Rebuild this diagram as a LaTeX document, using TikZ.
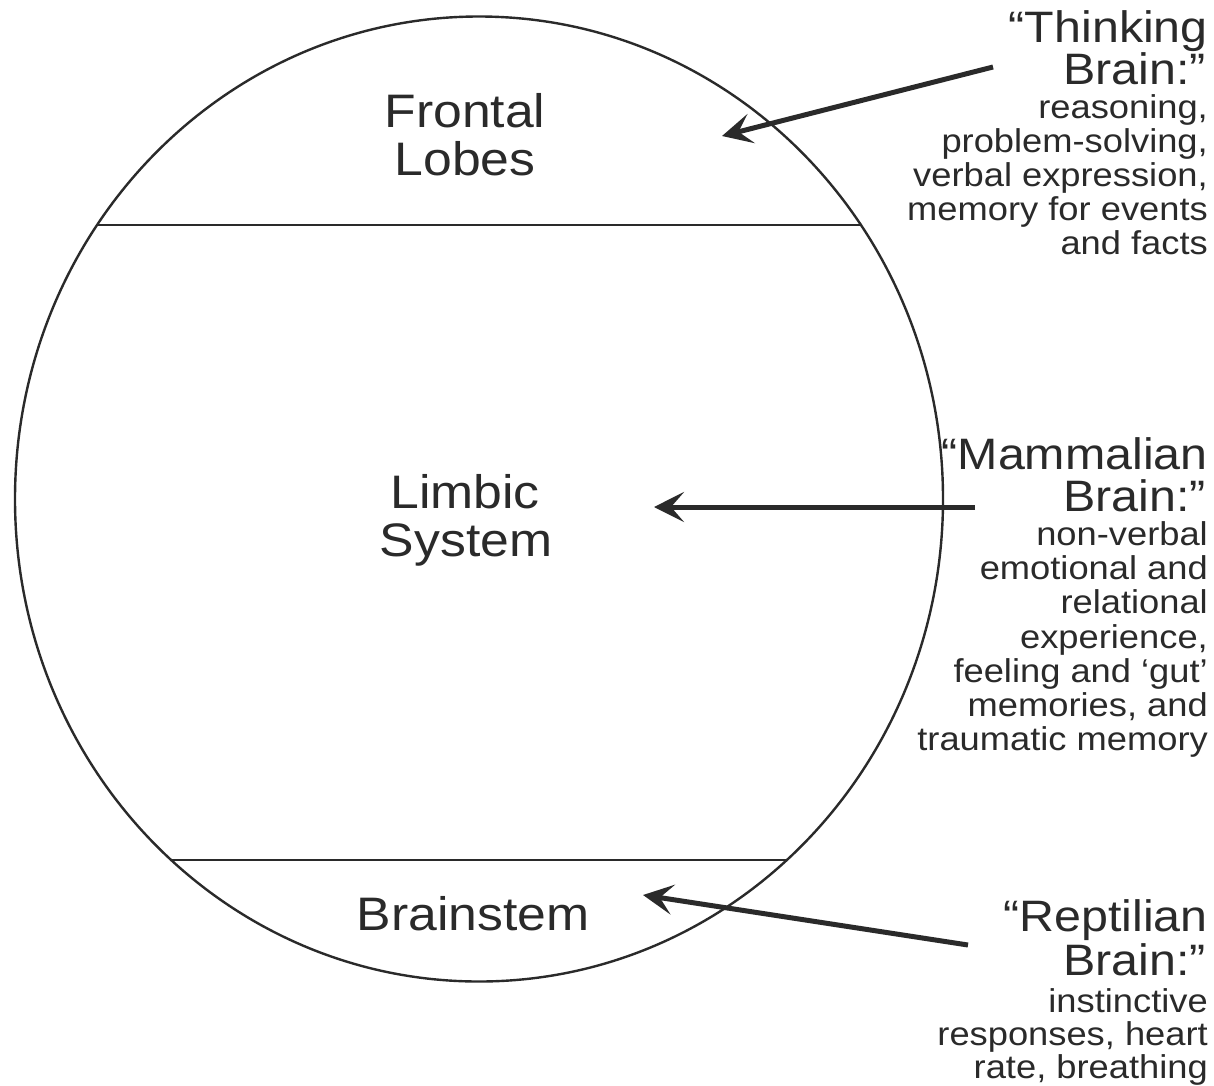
\documentclass[tikz,border=0pt]{standalone}
\usepackage{fontspec}
\newfontfamily\lab[FakeStretch=1.1]{Liberation Sans}
\usetikzlibrary{arrows.meta,intersections}
\definecolor{ink}{HTML}{2A2A2A}
\begin{document}
\begin{tikzpicture}[x=1pt,y=-1pt,
  region/.style={font=\lab\fontsize{47}{48}\selectfont, text=ink, inner sep=0pt, anchor=base},
  head/.style={font=\lab\fontsize{44}{44}\selectfont, text=ink, inner sep=0pt, anchor=base east},
  desc/.style={font=\lab\fontsize{33}{34}\selectfont, text=ink, inner sep=0pt, anchor=base east},
  outline/.style={draw=ink, line width=2.4pt},
  divider/.style={draw=ink, line width=2pt},
  pointer/.style={draw=ink, line width=5pt, -{Stealth[length=30pt,width=30pt,inset=13pt]}}]
\useasboundingbox[fill=white] (0,0) rectangle (1214,1085);
% brain outline
\draw[outline, name path=brain] (479,499) ellipse [x radius=464, y radius=482.5];
\path[name path=topcut] (0,225) -- (1000,225);
\path[name path=botcut] (0,860) -- (1000,860);
\path[name intersections={of=brain and topcut, name=ta}];
\path[name intersections={of=brain and botcut, name=ba}];
\draw[divider] (ta-1) -- (ta-2);
\draw[divider] (ba-1) -- (ba-2);
% region labels
\node[region] (fr1) at (465,127) {Frontal};
\node[region] (fr2) at (465,175) {Lobes};
\node[region] (li1) at (465,508) {Limbic};
\node[region] (li2) at (466,556) {System};
\node[region] (bs) at (473,930) {Brainstem};
% thinking brain
\node[head] (th1) at (1208,42) {“Thinking};
\node[head] (th2) at (1206,84) {Brain:”};
\node[desc] (td1) at (1208,118) {reasoning,};
\node[desc] (td2) at (1208,152) {problem-solving,};
\node[desc] (td3) at (1208,186) {verbal expression,};
\node[desc] (td4) at (1208,220) {memory for events};
\node[desc] (td5) at (1208,254) {and facts};
% mammalian brain
\node[head] (mh1) at (1208,469) {“Mammalian};
\node[head] (mh2) at (1206,511) {Brain:”};
\node[desc] (md1) at (1208,545) {non-verbal};
\node[desc] (md2) at (1208,579) {emotional and};
\node[desc] (md3) at (1208,613) {relational};
\node[desc] (md4) at (1208,648) {experience,};
\node[desc] (md5) at (1208,682) {feeling and ‘gut’};
\node[desc] (md6) at (1208,716) {memories, and};
\node[desc] (md7) at (1208,750) {traumatic memory};
% reptilian brain
\node[head] (rh1) at (1208,931) {“Reptilian};
\node[head] (rh2) at (1206,975) {Brain:”};
\node[desc] (rd1) at (1208,1012) {instinctive};
\node[desc] (rd2) at (1208,1045) {responses, heart};
\node[desc] (rd3) at (1208,1078) {rate, breathing};
% arrows
\coordinate (tT) at (993,67);
\coordinate (tH) at (722,136);
\coordinate (mT) at (975,507);
\coordinate (mH) at (654,507);
\coordinate (rT) at (968,945);
\coordinate (rH) at (643,895);
\draw[pointer] (tT) -- (tH);
\draw[pointer] (mT) -- (mH);
\draw[pointer] (rT) -- (rH);
\end{tikzpicture}
\end{document}
